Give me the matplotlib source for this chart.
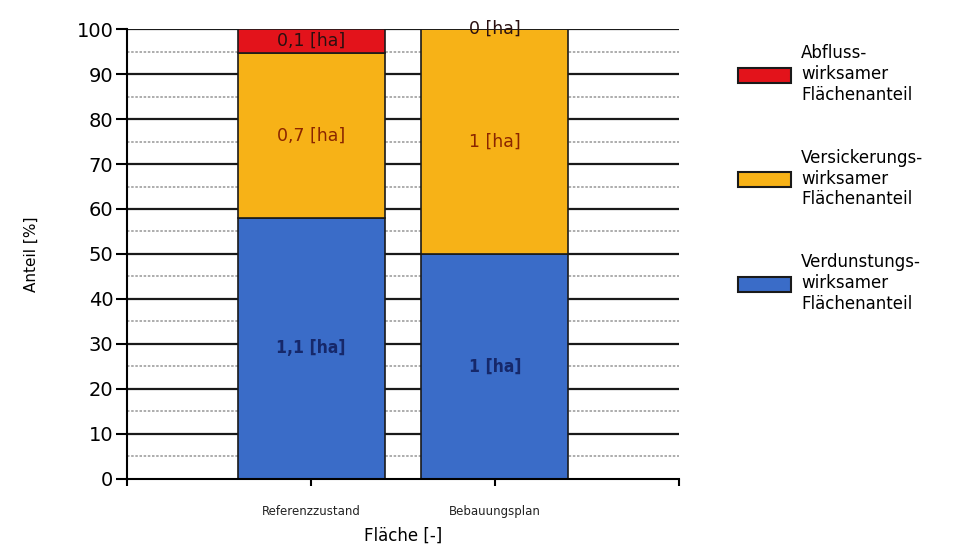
import matplotlib.pyplot as plt

# Daten
flaechen = ['Referenzzustand', 'Bebauungsplan']
verdunstung = [58.0, 50.0]
versickerung = [36.7, 50.0]
abfluss = [5.3, 0.0]
lbl_verdunstung = ['1,1 [ha]', '1 [ha]']
lbl_versickerung = ['0,7 [ha]', '1 [ha]']
lbl_abfluss = ['0,1 [ha]', '0 [ha]']

c_blue = '#3a6cc8'
c_orange = '#f7b217'
c_red = '#e3131b'

fig = plt.figure(figsize=(9.57, 5.6), dpi=100)
ax = fig.add_axes([0.133, 0.145, 0.576, 0.803])

x = [0, 1]
bottom2 = [a + b for a, b in zip(verdunstung, versickerung)]

# Gitter
for yv in range(5, 100, 10):
    ax.axhline(yv, color='#a0a0a0', lw=1.2, ls=(0, (1.5, 1)), zorder=0)
for yv in range(10, 101, 10):
    ax.axhline(yv, color='#1a1a1a', lw=1.6, zorder=0)

b1 = ax.bar(x, verdunstung, width=0.8, color=c_blue, edgecolor='#1a1a1a', lw=1.2, zorder=2,
            label='Verdunstungs-\nwirksamer\nFlächenanteil')
b2 = ax.bar(x, versickerung, width=0.8, bottom=verdunstung, color=c_orange, edgecolor='#1a1a1a', lw=1.2,
            zorder=2, label='Versickerungs-\nwirksamer\nFlächenanteil')
b3 = ax.bar(x, abfluss, width=0.8, bottom=bottom2, color=c_red, edgecolor='#1a1a1a', lw=1.2, zorder=2,
            label='Abfluss-\nwirksamer\nFlächenanteil')

# Beschriftungen
for i in x:
    ax.text(i, verdunstung[i] / 2, lbl_verdunstung[i], ha='center', va='center',
            fontsize=12.5, color='#16286a', fontweight='bold', fontstretch='condensed', zorder=3)
    ax.text(i, verdunstung[i] + versickerung[i] / 2, lbl_versickerung[i], ha='center', va='center',
            fontsize=12.5, color='#8a2500', zorder=3)
    ax.text(i, bottom2[i] + abfluss[i] / 2, lbl_abfluss[i], ha='center', va='center',
            fontsize=12.5, color='#2a1010', zorder=3)

ax.set_xlim(-1, 2)
ax.set_ylim(0, 100)
ax.set_yticks(range(0, 101, 10))
ax.set_xticks([-1, 0, 1, 2])
ax.set_xticklabels(['', flaechen[0], flaechen[1], ''], fontsize=8.5, color='#222222')
ax.tick_params(axis='y', labelsize=14, length=8, width=1.5, pad=2)
ax.tick_params(axis='x', length=5, width=1.5, pad=14)
for s in ['top', 'right']:
    ax.spines[s].set_visible(False)
ax.spines['left'].set_linewidth(1.5)
ax.spines['bottom'].set_linewidth(1.5)

ax.set_ylabel('Anteil [%]', fontsize=11, labelpad=27)
ax.set_xlabel('Fläche [-]', fontsize=12, labelpad=6)

handles = [b3, b2, b1]
leg = ax.legend(handles=handles, loc='upper left', bbox_to_anchor=(1.08, 1.0), frameon=False,
                fontsize=12, handlelength=3.2, handleheight=1.0, labelspacing=2.7, handletextpad=0.6)
for h in leg.legend_handles:
    h.set_linewidth(1.5)

plt.savefig('out.png', dpi=100)
